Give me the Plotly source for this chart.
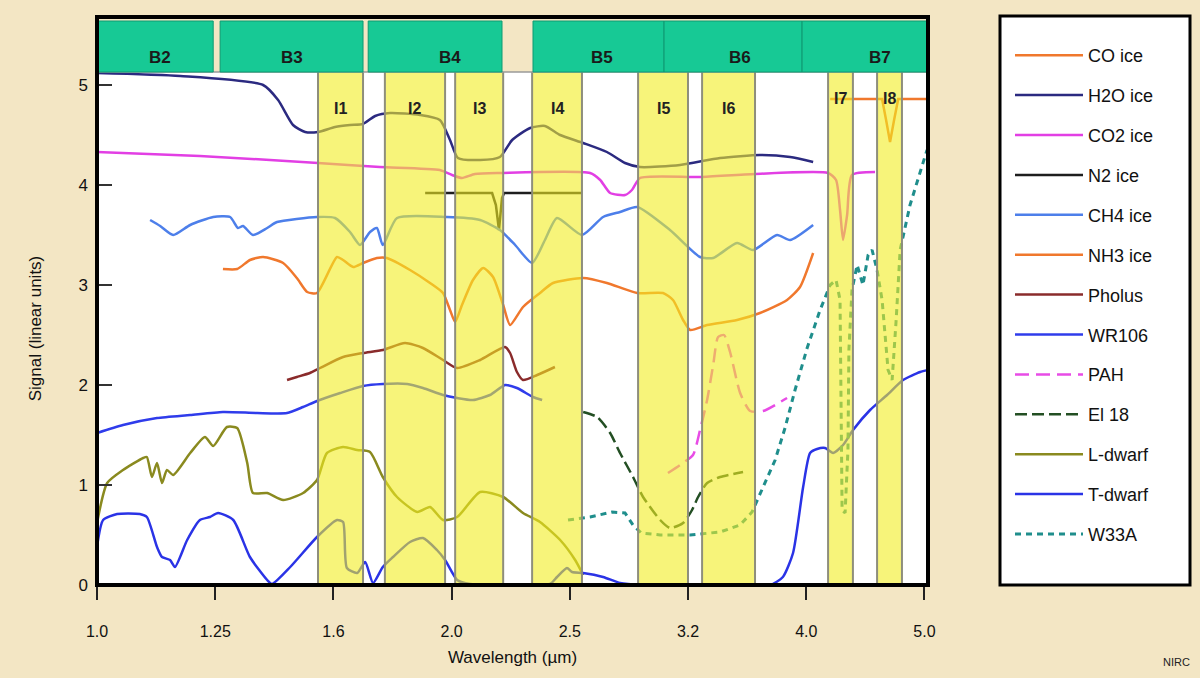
import numpy as np
import plotly.graph_objects as go

# ---------------- axis ticks ----------------
x_tick_vals = [1.0, 1.2589, 1.5849, 1.9953, 2.5119, 3.1623, 3.9811, 5.0119]
x_tick_text = ["1.0", "1.25", "1.6", "2.0", "2.5", "3.2", "4.0", "5.0"]
y_tick_vals = [0, 1, 2, 3, 4, 5]

# ---------------- filter bands (µm) ----------------
broad_names = ["B2", "B3", "B4", "B5", "B6", "B7"]
broad_lo = [1.000, 1.271, 1.696, 2.338, 3.018, 3.949]
broad_hi = [1.254, 1.679, 2.201, 3.018, 3.949, 5.047]
broad_label_x = [1.131, 1.462, 1.989, 2.675, 3.500, 4.596]

inter_names = ["I1", "I2", "I3", "I4", "I5", "I6", "I7", "I8"]
inter_lo = [1.538, 1.752, 2.009, 2.334, 2.869, 3.250, 4.154, 4.570]
inter_hi = [1.679, 1.970, 2.206, 2.572, 3.162, 3.603, 4.360, 4.797]

# ---------------- spectra (wavelength µm, signal) ----------------
co_x = [4.171, 4.615, 4.651, 4.687, 4.724, 4.762, 5.047]
co_y = [4.86, 4.86, 4.65, 4.43, 4.65, 4.86, 4.86]

h2o_x = [1.000, 1.176, 1.382, 1.423, 1.465, 1.500, 1.538, 1.590, 1.637, 1.679, 1.719, 1.770, 1.876,
         1.950, 1.989, 2.020, 2.109, 2.192, 2.245, 2.325, 2.393, 2.465, 2.578, 2.700, 2.797, 2.880,
         3.113, 3.366, 3.638, 3.858, 4.035]
h2o_y = [5.12, 5.09, 5.00, 4.85, 4.60, 4.53, 4.53, 4.58, 4.60, 4.61, 4.69, 4.72, 4.70,
         4.65, 4.45, 4.27, 4.25, 4.28, 4.45, 4.57, 4.59, 4.50, 4.42, 4.33, 4.22, 4.18,
         4.20, 4.27, 4.30, 4.28, 4.23]

co2_x = [1.000, 1.222, 1.538, 1.735, 1.950, 1.997, 2.036, 2.088, 2.192, 2.613, 2.665, 2.717,
         2.797, 2.835, 2.880, 3.237, 3.603, 4.154, 4.219, 4.252, 4.277, 4.311, 4.352, 4.552]
co2_y = [4.33, 4.29, 4.22, 4.18, 4.15, 4.10, 4.07, 4.11, 4.12, 4.12, 4.05, 3.92,
         3.90, 3.95, 4.07, 4.08, 4.11, 4.12, 4.05, 3.75, 3.45, 3.70, 4.10, 4.13]

n2_x = [1.895, 2.159, 2.175, 2.188, 2.201, 2.210, 2.572]
n2_y = [3.92, 3.92, 3.80, 3.55, 3.87, 3.92, 3.92]

ch4_x = [1.109, 1.131, 1.160, 1.199, 1.254, 1.296, 1.316, 1.329, 1.355, 1.393, 1.420, 1.535,
         1.590, 1.637, 1.669, 1.702, 1.725, 1.745, 1.794, 1.977, 2.109, 2.192, 2.258, 2.334,
         2.393, 2.450, 2.572, 2.680, 2.770, 2.864, 3.053, 3.237, 3.321, 3.479, 3.589, 3.761,
         3.858, 4.035]
ch4_y = [3.65, 3.59, 3.50, 3.60, 3.68, 3.68, 3.57, 3.59, 3.50, 3.57, 3.63, 3.68,
         3.67, 3.53, 3.40, 3.53, 3.57, 3.40, 3.67, 3.68, 3.65, 3.55, 3.40, 3.22,
         3.45, 3.67, 3.50, 3.68, 3.73, 3.78, 3.55, 3.28, 3.27, 3.42, 3.35, 3.50,
         3.45, 3.60]

nh3_x = [1.278, 1.314, 1.347, 1.382, 1.437, 1.476, 1.506, 1.535, 1.596, 1.615, 1.647, 1.679,
         1.725, 1.759, 1.840, 1.913, 1.962, 1.989, 2.009, 2.036, 2.080, 2.122, 2.163, 2.206,
         2.236, 2.293, 2.370, 2.431, 2.578, 2.700, 2.864, 3.012, 3.071, 3.132, 3.175, 3.282,
         3.479, 3.638, 3.835, 3.933, 4.035]
nh3_y = [3.16, 3.16, 3.25, 3.28, 3.22, 3.07, 2.93, 2.92, 3.28, 3.25, 3.18, 3.22,
         3.27, 3.27, 3.15, 3.02, 2.92, 2.75, 2.63, 2.80, 3.05, 3.17, 3.08, 2.80,
         2.60, 2.78, 2.92, 3.02, 3.07, 3.02, 2.92, 2.92, 2.85, 2.65, 2.55, 2.60,
         2.65, 2.72, 2.85, 2.98, 3.32]

pholus_x = [1.448, 1.476, 1.514, 1.544, 1.615, 1.679, 1.745, 1.822, 1.887, 1.962, 2.017, 2.109,
            2.214, 2.236, 2.266, 2.293, 2.357, 2.440]
pholus_y = [2.05, 2.08, 2.12, 2.17, 2.28, 2.32, 2.35, 2.42, 2.37, 2.25, 2.17, 2.25,
            2.38, 2.32, 2.13, 2.05, 2.10, 2.18]

wr106_x = [1.000, 1.052, 1.124, 1.199, 1.278, 1.366, 1.448, 1.494, 1.535, 1.606, 1.679, 1.745,
           1.830, 1.887, 1.962, 2.017, 2.080, 2.150, 2.214, 2.266, 2.338, 2.380]
wr106_y = [1.52, 1.60, 1.67, 1.70, 1.73, 1.72, 1.72, 1.78, 1.84, 1.92, 1.99, 2.01,
           2.01, 1.97, 1.90, 1.87, 1.85, 1.90, 2.00, 1.97, 1.88, 1.85]

pah_x = [3.041, 3.113, 3.193, 3.237, 3.282, 3.321, 3.353, 3.392, 3.432, 3.500, 3.569, 3.660, 3.835]
pah_y = [1.12, 1.20, 1.30, 1.55, 1.85, 2.20, 2.48, 2.50, 2.33, 1.92, 1.74, 1.74, 1.87]

el18_x = [2.578, 2.649, 2.717, 2.770, 2.841, 2.897, 2.995, 3.053, 3.132, 3.187, 3.225, 3.282,
          3.366, 3.520]
el18_y = [1.73, 1.68, 1.52, 1.32, 1.08, 0.88, 0.65, 0.57, 0.62, 0.75, 0.88, 1.02, 1.08, 1.13]

ldwarf_x = [1.000, 1.020, 1.052, 1.094, 1.102, 1.113, 1.124, 1.135, 1.146, 1.160, 1.199, 1.234,
            1.254, 1.288, 1.314, 1.340, 1.355, 1.393, 1.437, 1.494, 1.535, 1.565, 1.615, 1.660,
            1.702, 1.745, 1.794, 1.866, 1.913, 1.962, 2.017, 2.109, 2.206, 2.293, 2.370, 2.465,
            2.538, 2.578]
ldwarf_y = [0.62, 1.02, 1.15, 1.27, 1.28, 1.08, 1.22, 1.02, 1.15, 1.10, 1.32, 1.48,
            1.39, 1.58, 1.57, 1.22, 0.92, 0.92, 0.85, 0.92, 1.05, 1.32, 1.38, 1.35,
            1.33, 1.08, 0.88, 0.73, 0.78, 0.65, 0.68, 0.93, 0.88, 0.72, 0.63, 0.45,
            0.25, 0.10]

tdwarf_x = [1.000, 1.012, 1.040, 1.087, 1.102, 1.124, 1.135, 1.153, 1.164, 1.192, 1.222, 1.246,
            1.266, 1.304, 1.347, 1.393, 1.406, 1.457, 1.535, 1.596, 1.615, 1.627, 1.660, 1.686,
            1.712, 1.745, 1.780, 1.840, 1.887, 1.939, 1.970, 2.017, 2.068, 2.417, 2.450, 2.498,
            2.523, 2.578, 2.680, 2.770, 2.880, 3.710, 3.804, 3.880, 3.957, 4.011, 4.066, 4.130,
            4.195, 4.277, 4.361, 4.508, 4.660, 4.807, 4.970, 5.047]
tdwarf_y = [0.38, 0.65, 0.71, 0.71, 0.68, 0.38, 0.28, 0.25, 0.18, 0.45, 0.65, 0.68,
            0.72, 0.65, 0.28, 0.05, 0.01, 0.18, 0.48, 0.65, 0.63, 0.17, 0.12, 0.23,
            0.02, 0.18, 0.28, 0.43, 0.47, 0.35, 0.25, 0.05, 0.01, 0.01, 0.08, 0.17,
            0.13, 0.12, 0.08, 0.02, 0.00, 0.00, 0.08, 0.32, 0.98, 1.32, 1.36, 1.37,
            1.32, 1.40, 1.55, 1.75, 1.90, 2.05, 2.13, 2.15]

w33a_x = [2.503, 2.613, 2.727, 2.797, 2.841, 2.887, 2.995, 3.175, 3.366, 3.500, 3.582, 3.653,
          3.747, 3.820, 3.895, 3.988, 4.090, 4.171, 4.219, 4.252, 4.261, 4.269, 4.294, 4.318,
          4.326, 4.352, 4.396, 4.446, 4.491, 4.526, 4.570, 4.615, 4.669, 4.706, 4.743, 4.780,
          4.873, 4.970, 5.037]
w33a_y = [0.65, 0.68, 0.73, 0.72, 0.60, 0.52, 0.50, 0.50, 0.53, 0.60, 0.73, 0.95,
          1.25, 1.57, 1.95, 2.37, 2.75, 3.00, 3.05, 2.85, 1.85, 0.75, 0.72, 1.35,
          2.35, 2.95, 3.20, 3.00, 3.30, 3.35, 3.15, 2.85, 2.15, 2.05, 2.65, 3.35,
          3.80, 4.13, 4.35]

series_names = ["CO ice", "H2O ice", "CO2 ice", "N2 ice", "CH4 ice", "NH3 ice", "Pholus",
                "WR106", "PAH", "El 18", "L-dwarf", "T-dwarf", "W33A"]
series_x = [co_x, h2o_x, co2_x, n2_x, ch4_x, nh3_x, pholus_x, wr106_x, pah_x, el18_x,
            ldwarf_x, tdwarf_x, w33a_x]
series_y = [co_y, h2o_y, co2_y, n2_y, ch4_y, nh3_y, pholus_y, wr106_y, pah_y, el18_y,
            ldwarf_y, tdwarf_y, w33a_y]

# ---------------- styles ----------------
line_styles = {
    "CO ice": dict(color="#F0782D", dash="solid", width=2.5, shape="linear"),
    "H2O ice": dict(color="#2B2A80", dash="solid", width=2.5, shape="spline"),
    "CO2 ice": dict(color="#E23FE4", dash="solid", width=2.5, shape="spline"),
    "N2 ice": dict(color="#1E1E1E", dash="solid", width=2.5, shape="linear"),
    "CH4 ice": dict(color="#4D7FEA", dash="solid", width=2.5, shape="spline"),
    "NH3 ice": dict(color="#F0782D", dash="solid", width=2.5, shape="spline"),
    "Pholus": dict(color="#8A2B2B", dash="solid", width=2.5, shape="spline"),
    "WR106": dict(color="#2F3CEB", dash="solid", width=2.5, shape="spline"),
    "PAH": dict(color="#E84CE6", dash="14px,7px", width=2.5, shape="spline"),
    "El 18": dict(color="#234F23", dash="12px,5px", width=2.5, shape="spline"),
    "L-dwarf": dict(color="#8A8A1F", dash="solid", width=2.5, shape="spline"),
    "T-dwarf": dict(color="#2A33E6", dash="solid", width=2.5, shape="spline"),
    "W33A": dict(color="#1F8E8C", dash="6px,5px", width=3, shape="linear"),
}

FONT = "Liberation Sans, Arial, sans-serif"
PL, PR, PT, PB = 97, 928, 72, 585
W, H = 1200, 678


def pxp(px):
    return (px - PL) / (PR - PL)


def pyp(py):
    return (PB - py) / (PB - PT)


fig = go.Figure()
for i, name in enumerate(series_names):
    st = line_styles[name]
    line = dict(color=st["color"], width=st["width"], dash=st["dash"], shape=st["shape"])
    if st["shape"] == "spline":
        line["smoothing"] = 0.6
    fig.add_trace(go.Scatter(
        x=series_x[i], y=series_y[i], mode="lines", name=name,
        legendgroup=name, line=line,
    ))

shapes = []
annotations = []

# legend box
shapes.append(dict(type="rect", xref="paper", yref="paper",
                   x0=pxp(1000), x1=pxp(1190), y0=pyp(585), y1=pyp(16),
                   fillcolor="white", line=dict(color="black", width=3), layer="below"))

# intermediate (yellow) bands, drawn semi-transparent above the spectra
for name, lo, hi in zip(inter_names, inter_lo, inter_hi):
    shapes.append(dict(type="rect", xref="x", yref="paper", x0=lo, x1=hi, y0=0, y1=1,
                       fillcolor="#F2EC22", opacity=0.6, line=dict(width=0), layer="above"))
    for edge in (lo, hi):
        shapes.append(dict(type="line", xref="x", yref="paper", x0=edge, x1=edge, y0=0, y1=1,
                           line=dict(color="#8E8E7C", width=2), layer="above"))
    xc = 0.5 * (np.log10(lo) + np.log10(hi))
    ylab = pyp(88) if name in ("I7", "I8") else pyp(98)
    annotations.append(dict(x=xc, y=ylab, xref="x", yref="paper", text="<b>%s</b>" % name,
                            showarrow=False, font=dict(family=FONT, size=16, color="#222")))

# header line under the broad bands
shapes.append(dict(type="line", xref="paper", yref="paper", x0=0, x1=1, y0=1, y1=1,
                   line=dict(color="#9A9A9A", width=1.5), layer="above"))

# broad (green) bands in the header
for name, lo, hi, lx in zip(broad_names, broad_lo, broad_hi, broad_label_x):
    shapes.append(dict(type="rect", xref="x", yref="paper", x0=lo, x1=hi,
                       y0=1.0, y1=pyp(21), fillcolor="#17C995",
                       line=dict(color="#0E9A72", width=1), layer="above"))
    annotations.append(dict(x=np.log10(lx), y=pyp(46), xref="x", yref="paper",
                            text="<b>%s</b>" % name, showarrow=False,
                            font=dict(family=FONT, size=17, color="#1A1A1A")))

# black frame around plot + header
shapes.append(dict(type="rect", xref="paper", yref="paper", x0=0, x1=1, y0=0, y1=pyp(17),
                   line=dict(color="black", width=4), fillcolor="rgba(0,0,0,0)", layer="above"))

annotations.append(dict(x=pxp(1161), y=pyp(662), xref="paper", yref="paper", text="NIRC",
                        showarrow=False, xanchor="left", yanchor="middle",
                        font=dict(family=FONT, size=11, color="#222")))

fig.update_layout(
    width=W, height=H,
    margin=dict(l=PL, r=W - PR, t=PT, b=H - PB, autoexpand=False),
    paper_bgcolor="#F3E6C4", plot_bgcolor="white",
    font=dict(family=FONT, size=17, color="#111"),
    shapes=shapes, annotations=annotations,
    showlegend=True,
    legend=dict(x=pxp(1010), y=pyp(37), xanchor="left", yanchor="top",
                bgcolor="rgba(0,0,0,0)", borderwidth=0,
                font=dict(family=FONT, size=18, color="#111"),
                tracegroupgap=13.5, itemwidth=68, maxheight=640),
    xaxis=dict(type="log", range=[0, 0.703], tickvals=x_tick_vals, ticktext=x_tick_text,
               ticks="outside", ticklen=14, tickwidth=2, tickcolor="#222",
               showgrid=False, zeroline=False, showline=False,
               tickfont=dict(size=16), ticklabelstandoff=18,
               title=dict(text="Wavelength (µm)", font=dict(size=17), standoff=11)),
    yaxis=dict(range=[0, 5.13], tickvals=y_tick_vals, ticks="inside", ticklen=15,
               tickwidth=2, tickcolor="#333", showgrid=False, zeroline=False, showline=False,
               tickfont=dict(size=17), ticklabelstandoff=8,
               title=dict(text="Signal (linear units)", font=dict(size=17), standoff=32)),
)

fig.write_html("out.html", post_script="document.body.style.margin='0';",
               config={"displayModeBar": False})
